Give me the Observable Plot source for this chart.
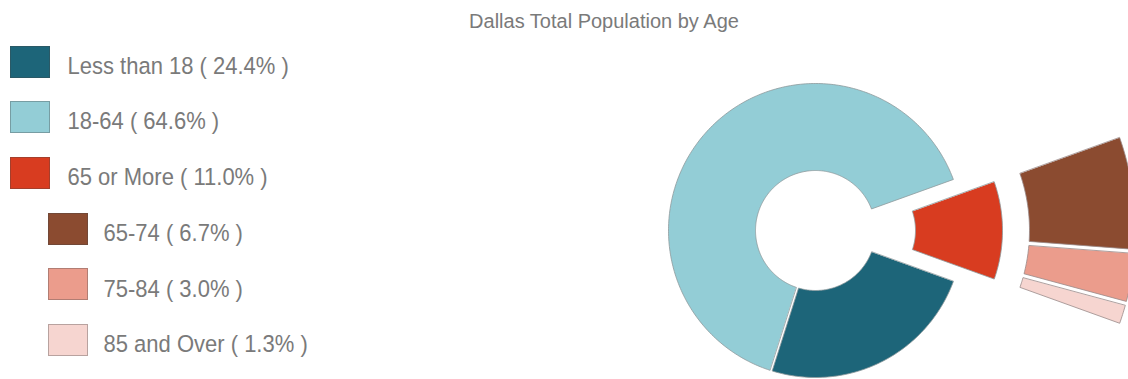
<!DOCTYPE html>
<html><head><meta charset="utf-8">
<script src="https://cdn.jsdelivr.net/npm/d3@7"></script>
<script src="https://cdn.jsdelivr.net/npm/@observablehq/plot@0.6"></script>
<style>
html,body{margin:0;padding:0;background:#fff;}
#wrap{position:relative;width:1128px;height:379px;overflow:hidden;font-family:"Liberation Sans",Arial,sans-serif;color:#7a7a7a;}
#chart{position:absolute;left:0;top:0;}
#title{position:absolute;left:404px;width:400px;top:11px;text-align:center;font-size:20px;line-height:20px;white-space:nowrap;}
.sw{position:absolute;width:38px;height:30px;border:1px solid rgba(70,70,70,0.35);}
.lb{position:absolute;font-size:22px;line-height:22px;white-space:nowrap;transform:scaleY(1.08);transform-origin:0 18.6px;}
</style></head>
<body><div id="wrap"><div id="chart"></div><div id="title"></div><div id="legend"></div></div>
<script>
const title = "Dallas Total Population by Age";
const categories = ["Less than 18", "18-64", "65 or More"];
const shares = [24.4, 64.6, 11.0];
const colors = ["#1d6579", "#93cdd6", "#d83c20"];
const subCategories = ["65-74", "75-84", "85 and Over"];
const subShares = [6.7, 3.0, 1.3];
const subColors = ["#8b4b30", "#eb9c8c", "#f6d5d0"];

// geometry (styling)
const R_OUT = 147, R_IN = 60, EXPLODE = 40, SUB_IN = 174, SUB_OUT = 280;
const PAD_MAIN = 1.3, PAD_SUB = 2.2;

function ringSlice(a0, a1, rIn, rOut, pad, shift, key, color) {
  const mid = (a0 + a1) / 2;
  const ox = shift * Math.sin(mid), oy = shift * Math.cos(mid);
  const n = Math.max(8, Math.ceil((a1 - a0) / (Math.PI / 180)));
  const pts = [];
  const o0 = a0 + Math.asin(pad / rOut), o1 = a1 - Math.asin(pad / rOut);
  for (let i = 0; i <= n; i++) {
    const t = o0 + (o1 - o0) * i / n;
    pts.push({x: ox + rOut * Math.sin(t), y: oy + rOut * Math.cos(t), key, color});
  }
  const i0 = a0 + Math.asin(pad / rIn), i1 = a1 - Math.asin(pad / rIn);
  for (let i = 0; i <= n; i++) {
    const t = i1 - (i1 - i0) * i / n;
    pts.push({x: ox + rIn * Math.sin(t), y: oy + rIn * Math.cos(t), key, color});
  }
  return pts;
}

const total = d3.sum(shares);
const deg = Math.PI / 180;
// the "65 or More" slice is centred on 3 o'clock; then clockwise: Less than 18, 18-64
const order = [2, 0, 1];
let a = (90 - shares[2] / total * 180) * deg;
const redStart = a;
const points = [];
for (const k of order) {
  const span = shares[k] / total * 2 * Math.PI;
  const shift = k === 2 ? EXPLODE : 0;
  points.push(...ringSlice(a, a + span, R_IN, R_OUT, PAD_MAIN, shift, categories[k], colors[k]));
  a += span;
}
// sub-slices of "65 or More"
const redSpan = shares[2] / total * 2 * Math.PI;
const redMid = redStart + redSpan / 2;
let b = redStart;
const subPoints = [];
subShares.forEach((s, j) => {
  const span = s / total * 2 * Math.PI;
  const pts = ringSlice(b, b + span, SUB_IN, SUB_OUT, PAD_SUB, 0, subCategories[j], subColors[j]);
  const ox = EXPLODE * Math.sin(redMid), oy = EXPLODE * Math.cos(redMid);
  pts.forEach(p => { p.x += ox; p.y += oy; });
  subPoints.push(...pts);
  b += span;
});

const chart = Plot.plot({
  width: 1128, height: 379, margin: 0,
  x: {domain: [-815, 313], axis: null},
  y: {domain: [-149, 230], axis: null},
  color: {type: "identity"},
  marks: [
    Plot.line(points, {x: "x", y: "y", z: "key", fill: "color", stroke: "#8f9a9c", strokeWidth: 1, strokeOpacity: 0.8, curve: "linear-closed"}),
    Plot.line(subPoints, {x: "x", y: "y", z: "key", fill: "color", stroke: "#9a8a88", strokeWidth: 1, strokeOpacity: 0.8, curve: "linear-closed"})
  ]
});
document.getElementById("chart").appendChild(chart);
document.getElementById("title").textContent = title;

const legend = document.getElementById("legend");
const items = [
  ...categories.map((c, i) => ({label: `${c} ( ${shares[i].toFixed(1)}% )`, color: colors[i], indent: 0})),
  ...subCategories.map((c, i) => ({label: `${c} ( ${subShares[i].toFixed(1)}% )`, color: subColors[i], indent: 1}))
];
items.forEach((it, i) => {
  const sw = document.createElement("div");
  sw.className = "sw";
  sw.style.left = (it.indent ? 47.5 : 10) + "px";
  sw.style.top = (45.5 + 55.7 * i) + "px";
  sw.style.background = it.color;
  legend.appendChild(sw);
  const lb = document.createElement("div");
  lb.className = "lb";
  lb.style.left = (it.indent ? 103.5 : 67.5) + "px";
  lb.style.top = (74.3 + 55.7 * i - 18.6) + "px";
  lb.textContent = it.label;
  legend.appendChild(lb);
});
</script></body></html>
